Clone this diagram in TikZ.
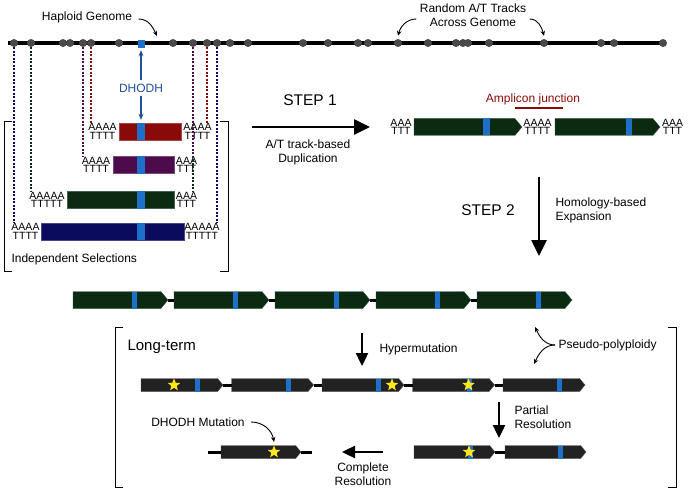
\documentclass[tikz,border=0pt]{standalone}
\usepackage{fontspec}
\setmainfont{Liberation Sans}
\usetikzlibrary{arrows.meta, positioning, shapes.symbols, shapes.geometric}

\definecolor{ampgreen}{HTML}{0A2A12}
\definecolor{selred}{HTML}{8A0A0A}
\definecolor{selpurple}{HTML}{4E0B4C}
\definecolor{selnavy}{HTML}{0B0B5E}
\definecolor{dhblue}{HTML}{1E6FC8}
\definecolor{dhtext}{HTML}{1F4FA0}
\definecolor{dotgray}{HTML}{4A4A4A}
\definecolor{ltgray}{HTML}{222222}
\definecolor{junction}{HTML}{8B0A0A}
\definecolor{staryellow}{HTML}{FFE81A}

\begin{document}
\begin{tikzpicture}[x=1pt, y=-1pt,
    every node/.style = { font=\fontsize{12}{14}\selectfont },
    selbar/.style = { rectangle, inner sep=0pt, minimum height=17pt, anchor=west,
                      fill=#1, draw=#1!75!white, line width=0.4pt },
    gene/.style = { signal, signal to=east, signal pointer angle=100, inner sep=0pt,
                    outer sep=0pt, minimum height=17pt, anchor=west,
                    fill=ampgreen, draw=ampgreen!80!white, line width=0.4pt },
    oldgene/.style = { gene, minimum height=13pt, minimum width=82pt,
                       fill=ltgray, draw=ltgray!80!white }
]
    \tikzstyle{dot} = [circle, fill=dotgray, inner sep=0pt, minimum size=8pt];
    \tikzstyle{atpair} = [inner sep=0pt, align=center, font=\fontsize{10.5}{8.5}\selectfont];
    \tikzstyle{stripe} = [fill=dhblue];
    \tikzstyle{link} = [line width=3pt];
    \tikzstyle{genome} = [line width=3.6pt];
    \tikzstyle{trace} = [dash pattern=on 2pt off 1.5pt, line width=1.1pt];
    \tikzstyle{bendarrow} = [line width=0.9pt, -{Stealth[length=5pt, width=4.5pt]}];
    \tikzstyle{bigarrow} = [line width=2.6pt, -{Triangle[length=16pt, width=15pt]}];
    \tikzstyle{midarrow} = [line width=2.4pt, -{Triangle[length=13pt, width=12pt]}];
    \tikzstyle{mut} = [star, star points=5, star point ratio=2.3, fill=staryellow,
                       inner sep=0pt, minimum size=13pt];
    \tikzstyle{steplabel} = [font=\fontsize{15.5}{18}\selectfont];

    \useasboundingbox (0,0) rectangle (688,492);

    % haploid genome
    \coordinate (gl) at (8,43);
    \coordinate (gr) at (663,43);
    \draw[genome] (gl) -- (gr);
    \foreach \x [count=\n] in {14,31,63,70,83,91,119,173,193,207,217,230,248,303,328,
                               358,368,398,428,456,463,468,489,544,601,614,663}
        \node[dot] (d\n) at (\x,43) {};
    \node[fill=dhblue, inner sep=0pt, minimum width=7pt, minimum height=8pt] (dh) at (141,44) {};

    \node (hap) at (87,17) {Haploid Genome};
    \coordinate (hapt) at (157,36);
    \draw[bendarrow] ([xshift=3pt,yshift=-2pt]hap.east) to[out=0, in=115] (hapt);

    \node[align=center] (rnd) at (473,15) {Random A/T Tracks\\Across Genome};
    \draw[bendarrow] ([yshift=-4pt]rnd.west) to[out=180, in=75] ([yshift=3pt]d18.north);
    \draw[bendarrow] ([yshift=-4pt]rnd.east) to[out=0, in=105] ([yshift=3pt]d24.north);

    % independent selections
    \node[selbar=selred, minimum width=62pt] (rb) at (119,131.5) {};
    \node[selbar=selpurple, minimum width=61pt] (pb) at (113,165) {};
    \node[selbar=ampgreen, minimum width=107pt] (gb) at (67,200) {};
    \node[selbar=selnavy, minimum width=143pt] (nb) at (41,231.5) {};
    \foreach \b in {rb,pb,gb,nb}
        \fill[stripe] (\b.south -| dh.west) rectangle (\b.north -| dh.east);

    \node[atpair] (rl) at (102.5,131.5) {AAAA\\TTTT};
    \node[atpair] (rr) at (197.5,131.5) {AAAA\\TTTT};
    \node[atpair] (pl) at (96,165) {AAAA\\TTTT};
    \node[atpair] (pr) at (186.5,165) {AAA\\TTT};
    \node[atpair] (gnl) at (47,200) {AAAAA\\TTTTT};
    \node[atpair] (gnr) at (186.5,200) {AAA\\TTT};
    \node[atpair] (nl) at (25.5,231.5) {AAAA\\TTTT};
    \node[atpair] (nr) at (202,231.5) {AAAAA\\TTTTT};

    \draw[trace, selnavy] (d1) -- (d1 |- nl.north);
    \draw[trace, ampgreen] (d2) -- (d2 |- gnl.north);
    \draw[trace, selpurple] (d5) -- (d5 |- pl.north);
    \draw[trace, selred] (d6) -- (d6 |- rl.north);
    \draw[trace, ampgreen] (d9) -- (d9 |- gnr.north);
    \draw[trace, selpurple] (d9) -- (d9 |- pr.north);
    \draw[trace, selred] (d10) -- (d10 |- rr.north);
    \draw[trace, selnavy] (d11) -- (d11 |- nr.north);

    \node[text=dhtext] (dhl) at (141,88) {DHODH};
    \draw[dhtext, line width=1.2pt, -{Stealth[length=6pt, width=5pt]}] (dhl.north) -- ([yshift=-2pt]dh.south);
    \draw[dhtext, line width=1.2pt, -{Stealth[length=6pt, width=5pt]}] (dhl.south) -- ([yshift=3pt]dhl.south |- rb.north);

    \draw[line width=0.9pt] (12,121) -- (4,121) -- (4,271) -- (12,271);
    \draw[line width=0.9pt] (220,121) -- (228,121) -- (228,271) -- (220,271);
    \node[anchor=west] (indep) at (8,259) {Independent Selections};

    % step 1
    \node[steplabel] (s1) at (310,100) {STEP 1};
    \coordinate (s1a) at (252,127);
    \coordinate (s1b) at (370,127);
    \draw[bigarrow] (s1a) -- (s1b);
    \node[align=center] (s1t) at (308,152) {A/T track-based\\Duplication};

    \node[atpair] (ja) at (401,127) {AAA\\TTT};
    \node[gene, minimum width=108pt] (j1) at (414,127) {};
    \node[atpair] (jb) at (537.5,127) {AAAA\\TTTT};
    \node[gene, minimum width=105pt] (j2) at (555,127) {};
    \node[atpair] (jc) at (672.5,127) {AAA\\TTT};
    \fill[stripe] ([xshift=69pt, yshift=-8.5pt]j1.west) rectangle ++(7pt,17pt);
    \fill[stripe] ([xshift=71pt, yshift=-8.5pt]j2.west) rectangle ++(6pt,17pt);
    \node[text=junction] (junc) at (533,99) {Amplicon junction};
    \draw[junction, line width=2.8pt] (515,108) -- (563,108);

    % step 2
    \node[steplabel] (s2) at (488,210) {STEP 2};
    \coordinate (s2a) at (539,177);
    \coordinate (s2b) at (539,256);
    \draw[bigarrow] (s2a) -- (s2b);
    \node[anchor=west, align=left] (s2t) at (552,210) {Homology-based\\Expansion};

    \foreach \i in {1,...,5} {
        \node[gene, minimum width=95pt] (e\i) at ({73+101*(\i-1)},300) {};
        \fill[stripe] ([xshift=59pt, yshift=-8.5pt]e\i.west) rectangle ++(5pt,17pt);
    }
    \foreach \i [count=\j from 2] in {1,...,4}
        \draw[link] (e\i.east) -- (e\j.west);

    % long-term
    \draw[line width=0.9pt] (123,327) -- (115,327) -- (115,487) -- (123,487);
    \draw[line width=0.9pt] (668,327) -- (676,327) -- (676,487) -- (668,487);
    \node[anchor=west, font=\fontsize{15}{18}\selectfont] (lt) at (124,347) {Long-term};

    \coordinate (hma) at (362,333);
    \coordinate (hmb) at (362,366);
    \draw[midarrow] (hma) -- (hmb);
    \node[anchor=west] (hmt) at (376,349) {Hypermutation};

    \node[anchor=west] (pp) at (555,345) {Pseudo-polyploidy};
    \coordinate (ppu) at (535,327);
    \coordinate (ppd) at (534,364);
    \draw[bendarrow] (pp.west) to[out=180, in=-65] (ppu);
    \draw[bendarrow] (pp.west) to[out=180, in=65] (ppd);

    \foreach \i in {1,...,5} {
        \node[oldgene] (h\i) at ({141+90.5*(\i-1)},385) {};
        \fill[stripe] ([xshift=54pt, yshift=-6.5pt]h\i.west) rectangle ++(5pt,13pt);
    }
    \foreach \i [count=\j from 2] in {1,...,4}
        \draw[link] (h\i.east) -- (h\j.west);
    \node[mut] at ([xshift=33pt]h1.west) {};
    \node[mut] at ([xshift=70pt]h3.west) {};
    \node[mut] at ([xshift=56pt]h4.west) {};

    \coordinate (pra) at (499,402);
    \coordinate (prb) at (499,438);
    \draw[midarrow] (pra) -- (prb);
    \node[anchor=west, align=left] (prt) at (511,417) {Partial\\Resolution};

    \node[oldgene, minimum width=81pt] (p1) at (414,452) {};
    \node[oldgene, minimum width=81pt] (p2) at (505,452) {};
    \fill[stripe] ([xshift=54pt, yshift=-6.5pt]p1.west) rectangle ++(5pt,13pt);
    \fill[stripe] ([xshift=53pt, yshift=-6.5pt]p2.west) rectangle ++(5pt,13pt);
    \draw[link] (p1.east) -- (p2.west);
    \node[mut] at ([xshift=55pt]p1.west) {};

    \coordinate (cra) at (383,452);
    \coordinate (crb) at (342,452);
    \draw[midarrow] (cra) -- (crb);
    \node[align=center] (crt) at (363,474) {Complete\\Resolution};

    \coordinate (fl) at (208,452);
    \coordinate (fr) at (312,452);
    \node[oldgene, minimum width=80pt] (f1) at (221,452) {};
    \draw[link] (fl) -- (f1.west);
    \draw[link] (f1.east) -- (fr);
    \node[mut] (fs) at ([xshift=53pt]f1.west) {};
    \node (dm) at (198,422) {DHODH Mutation};
    \draw[bendarrow] ([xshift=3pt]dm.east) to[out=0, in=100] ([yshift=3pt]fs.north);
\end{tikzpicture}
\end{document}
